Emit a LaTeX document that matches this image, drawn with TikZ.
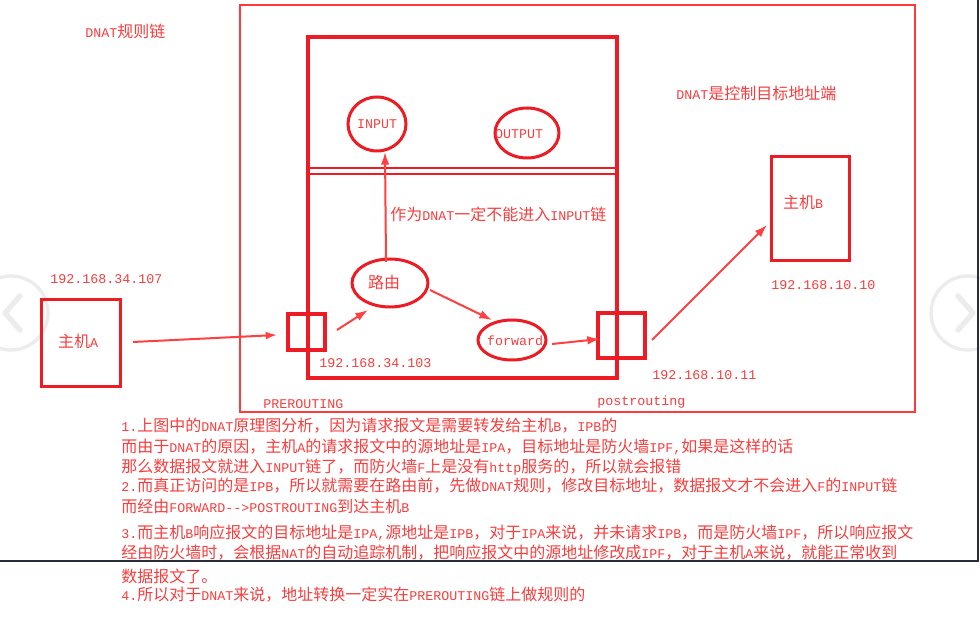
\documentclass[tikz,border=0pt]{standalone}
\usepackage{fontspec}
\setmainfont{Liberation Mono}[Scale=0.8333,Ligatures=TeXOff]
\newfontfamily\cjkfont{Noto Sans CJK SC}
\usetikzlibrary{arrows.meta,shapes.geometric,calc}

% switch to the CJK family automatically for ideographs and CJK punctuation
\newXeTeXintercharclass\CJKcls
\newcount\cjkc
\def\setcjkrange#1#2{\cjkc=#1\relax
  \loop\XeTeXcharclass\cjkc=\CJKcls\relax
  \ifnum\cjkc<#2\relax\advance\cjkc by 1\repeat}
\setcjkrange{"3000}{"303F}
\setcjkrange{"4E00}{"9FFF}
\setcjkrange{"FF00}{"FFEF}
\XeTeXinterchartoks 0 \CJKcls = {\begingroup\cjkfont}
\XeTeXinterchartoks 4095 \CJKcls = {\begingroup\cjkfont}
\XeTeXinterchartoks \CJKcls 0 = {\endgroup}
\XeTeXinterchartoks \CJKcls 4095 = {\endgroup}
\XeTeXinterchartokenstate=1

\definecolor{boxred}{RGB}{237,28,36}
\definecolor{framered}{RGB}{255,58,58}
\definecolor{arrred}{RGB}{255,64,64}
\definecolor{txtred}{RGB}{246,62,62}
\definecolor{edgegray}{RGB}{42,46,58}
\definecolor{navgray}{RGB}{236,236,236}

\tikzset{
  lbl/.style={text=txtred, inner sep=0pt, font=\fontsize{12}{14}\selectfont},
  lblw/.style={lbl, anchor=west},
  hostbox/.style={draw=boxred, line width=2.25pt, rectangle, inner sep=0pt, outer sep=0pt},
  chainbox/.style={draw=boxred, line width=3pt, rectangle, inner sep=0pt, outer sep=0pt},
  chainoval/.style={draw=boxred, line width=2.25pt, ellipse, inner sep=0pt, outer sep=0pt},
  arr/.style={draw=arrred, line width=1.5pt, -{Latex[length=9.5pt,width=6.5pt]}},
  navring/.style={draw=navgray, line width=2.5pt},
  navchev/.style={draw=navgray, line width=4pt, line cap=round, line join=round},
}

\begin{document}
\begin{tikzpicture}[x=0.75pt,y=-0.75pt]
\useasboundingbox (0,0) rectangle (980,630);
\fill[white] (0,0) rectangle (980,630);

% page navigation rings at both sides
\draw[navring] (11,313) circle [radius=37];
\draw[navchev] (20,296) -- (5,313) -- (20,330);
\draw[navring] (968,313) circle [radius=37];
\draw[navchev] (958,296) -- (973,313) -- (958,330);

% firewall frame and netfilter box
\draw[framered, line width=2pt] (240,5) rectangle (915,412);
\draw[boxred, line width=3pt] (308,37) rectangle (617,378);
\draw[boxred, line width=2pt] (308,168) -- (617,168);
\draw[boxred, line width=2pt] (310,174) -- (617,174);

% hosts
\node[hostbox, minimum width=59.25pt, minimum height=64.5pt] (hostA) at (80.5,343) {};
\node[lbl] (hostAlbl) at (78,341) {主机A};
\node[hostbox, minimum width=58.5pt, minimum height=78pt] (hostB) at (810,209) {};
\node[lbl] (hostBlbl) at (803,202) {主机B};

% hook points
\node[chainbox, minimum width=27.75pt, minimum height=27pt] (preBox) at (306.5,332) {};
\node[chainbox, line width=2.6pt, minimum width=35.25pt, minimum height=33.75pt] (postBox) at (621.5,335.5) {};

% chains
\node[chainoval, minimum width=43.5pt, minimum height=40.5pt] (input) at (377,124) {};
\node[lbl] (inputLbl) at (377,124) {INPUT};
\node[chainoval, minimum width=48pt, minimum height=37.5pt] (output) at (527,133) {};
\node[lbl] (outputLbl) at (519,134) {OUTPUT};
\node[chainoval, minimum width=57pt, minimum height=36pt] (luyou) at (390,283) {};
\node[lbl] (luyouLbl) at (384,282) {路由};
\node[chainoval, minimum width=51pt, minimum height=30pt] (forward) at (512,340) {};
\node[lbl] (fwdLbl) at (515,341) {forward};

% packet path
\draw[arr, -{Latex[length=8.5pt,width=6pt]}] ($(hostA.east)+(13,-1)$) -- ($(preBox.west)+(-11,3)$);
\draw[arr] ($(preBox.east)+(12,-2)$) -- ($(luyou.south)+(-22,3)$);
\draw[arr] ($(luyou.east)+(2,7)$) -- ($(forward.north)+(-20,0)$);
\draw[arr] ($(forward.east)+(6,4)$) -- ($(postBox.west)+(2,3.5)$);
\draw[arr] ($(postBox.east)+(7,4.5)$) -- ($(hostB.west)+(-4,16)$);
\draw[arr] ($(luyou.north)+(-4,3)$) -- ($(input.south)+(8,1)$);

% labels
\node[lblw] (title) at (85,31) {DNAT规则链};
\node[lblw] (dnatNote) at (676,93) {DNAT是控制目标地址端};
\node[lblw] (ruleLbl) at (390,214) {作为DNAT一定不能进入INPUT链};
\node[lblw] (ipA) at (50,279) {192.168.34.107};
\node[lblw] (ipPre) at (319,363) {192.168.34.103};
\node[lblw] (ipB) at (771,285) {192.168.10.10};
\node[lblw] (ipPost) at (652,375) {192.168.10.11};
\node[lblw] (preLbl) at (263,404) {PREROUTING};
\node[lblw] (postLbl) at (597,402) {postrouting};

% notes
\node[lblw] (n1) at (121,426) {1.上图中的DNAT原理图分析，因为请求报文是需要转发给主机B，IPB的};
\node[lblw] (n2) at (121,447) {而由于DNAT的原因，主机A的请求报文中的源地址是IPA，目标地址是防火墙IPF,如果是这样的话};
\node[lblw] (n3) at (121,467) {那么数据报文就进入INPUT链了，而防火墙F上是没有http服务的，所以就会报错};
\node[lblw] (n4) at (121,486) {2.而真正访问的是IPB，所以就需要在路由前，先做DNAT规则，修改目标地址，数据报文才不会进入F的INPUT链};
\node[lblw] (n5) at (121,506) {而经由FORWARD-->POSTROUTING到达主机B};
\node[lblw] (n6) at (121,533) {3.而主机B响应报文的目标地址是IPA,源地址是IPB，对于IPA来说，并未请求IPB，而是防火墙IPF，所以响应报文};
\node[lblw] (n7) at (121,553) {经由防火墙时，会根据NAT的自动追踪机制，把响应报文中的源地址修改成IPF，对于主机A来说，就能正常收到};
\node[lblw] (n8) at (121,576) {数据报文了。};
\node[lblw] (n9) at (121,595) {4.所以对于DNAT来说，地址转换一定实在PREROUTING链上做规则的};

% window edge
\draw[edgegray, line width=1.5pt] (0,561) -- (978,561) -- (978,0);
\end{tikzpicture}
\end{document}
